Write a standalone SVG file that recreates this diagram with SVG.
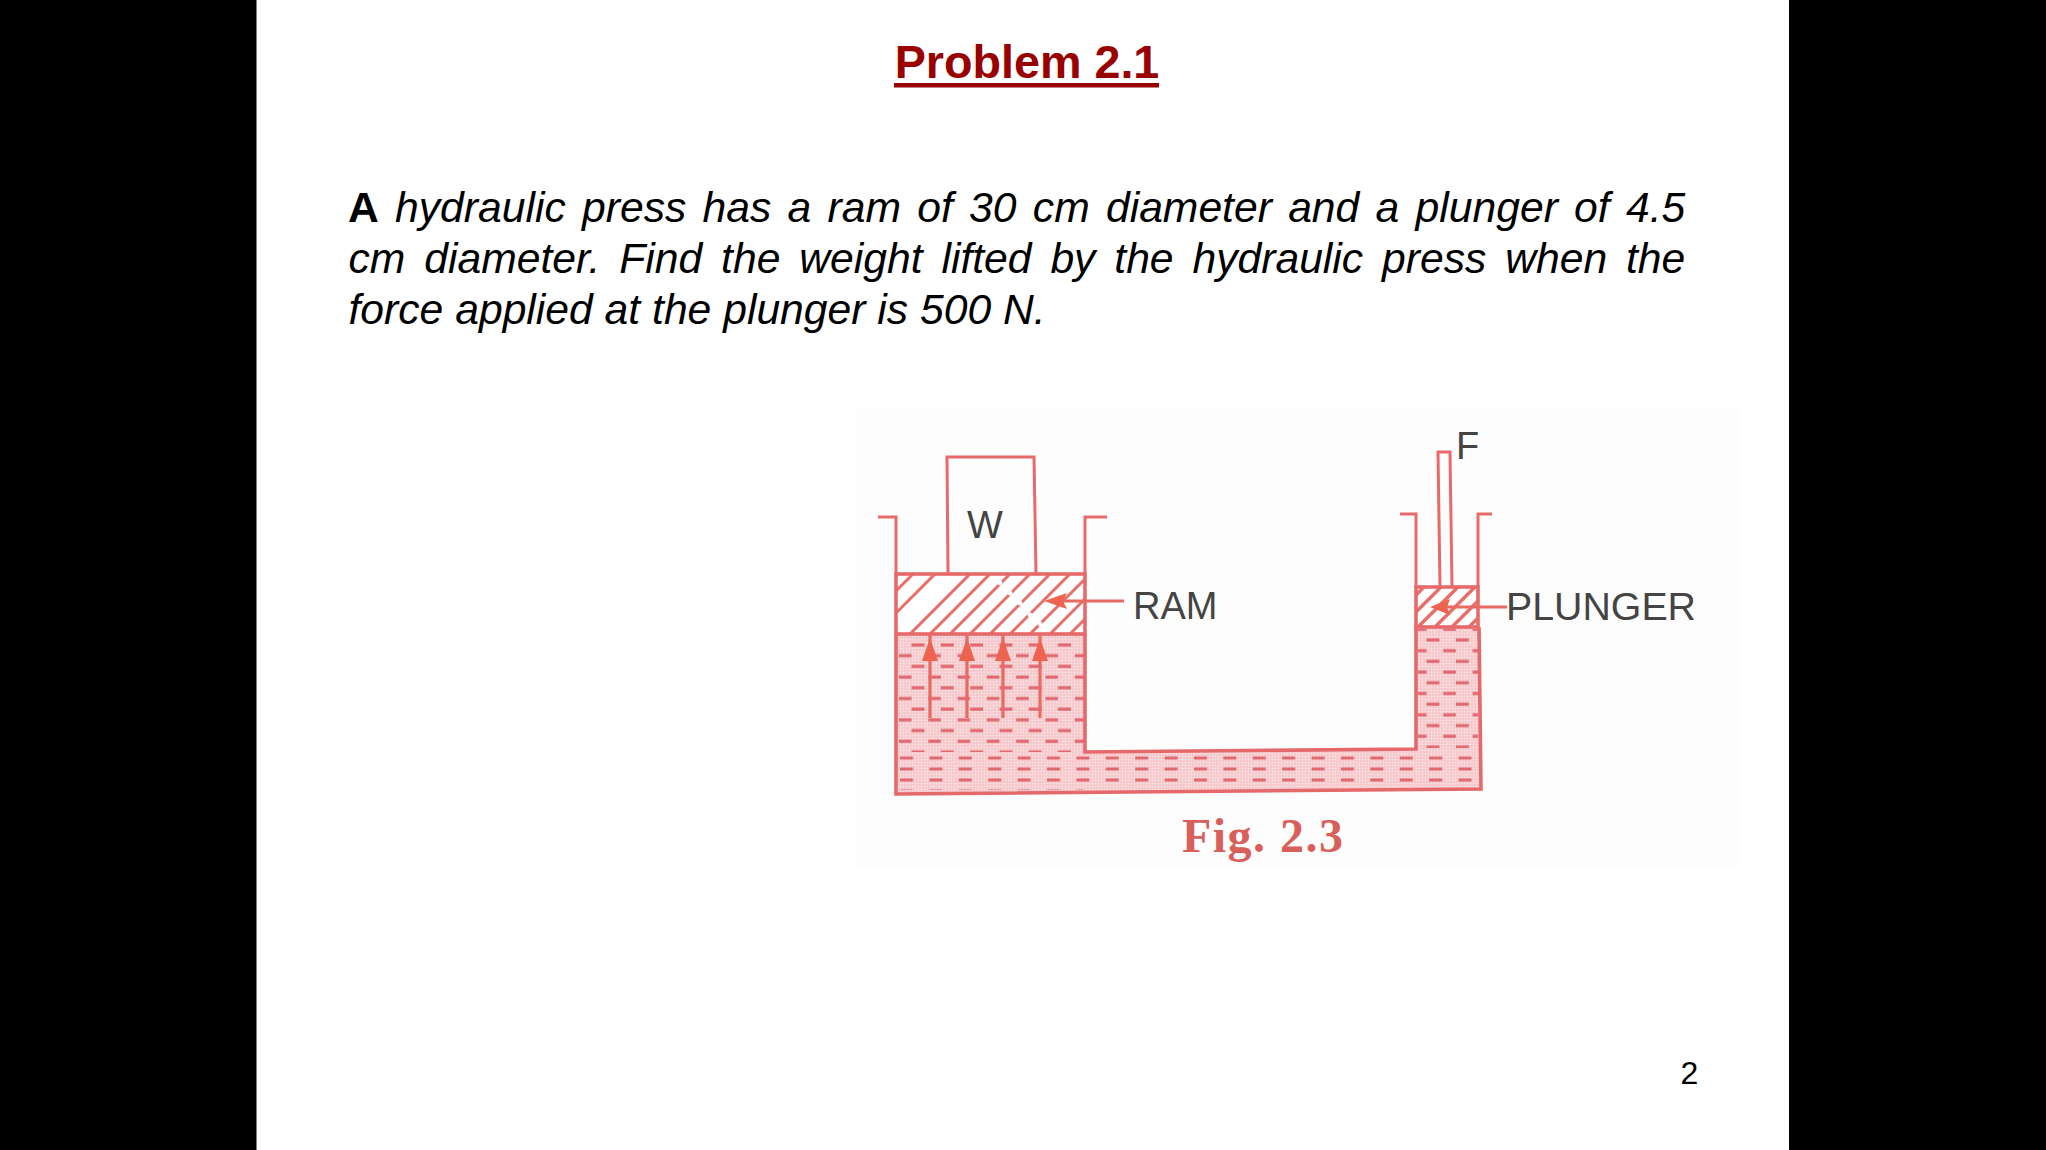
<svg xmlns="http://www.w3.org/2000/svg" width="2046" height="1150" viewBox="0 0 2046 1150">
<style>
text{font-family:"Liberation Sans",Arial,sans-serif}
.body{font-size:42.67px;font-style:italic;fill:#000}
.lbl{font-size:38px;fill:#444}
.wall{fill:none;stroke:#e8696a;stroke-width:3}
.lead{stroke:#e86a62;stroke-width:3.2;fill:none}
.head{fill:#ee6450}
.fluidline{fill:none;stroke:#e5686a;stroke-width:3.6}
.soft{filter:url(#soft)}
</style>
<defs>
<filter id="soft" x="-5%" y="-5%" width="110%" height="110%"><feGaussianBlur stdDeviation="0.6"/></filter>
<clipPath id="ramClip"><rect x="896" y="574" width="189" height="60"/></clipPath>
<pattern id="stip" patternUnits="userSpaceOnUse" width="3" height="3"><rect width="3" height="3" fill="#f8d0d3"/><rect width="1" height="1" fill="#fbe6e6"/><rect x="1.5" y="1.5" width="1" height="1" fill="#f1b6bb"/></pattern>
<pattern id="dashL" patternUnits="userSpaceOnUse" x="899" y="640" width="29.3" height="21.4"><path d="M12.5 5H25.5M0 15.7H12.5" stroke="#e0686e" stroke-width="3" fill="none"/></pattern>
<pattern id="dashR" patternUnits="userSpaceOnUse" x="1414" y="635" width="29.3" height="21.4"><path d="M12.5 5H25.5M0 15.7H12.5" stroke="#e0686e" stroke-width="3" fill="none"/></pattern>
<pattern id="dashB" patternUnits="userSpaceOnUse" x="899" y="752" width="29.4" height="33"><path d="M1 6H14M1 17H14M1 28H14" stroke="#e0686e" stroke-width="3" fill="none"/></pattern>
<pattern id="hatchPl" patternUnits="userSpaceOnUse" x="1420" y="608" width="17" height="17"><path d="M-2 2L2 -2M-1 18L18 -1M15 19L19 15" stroke="#e96e68" stroke-width="3.4" fill="none"/></pattern>
</defs>

<rect width="2046" height="1150" fill="#fff"/>
<rect x="0" y="0" width="256.5" height="1150" fill="#000"/>
<rect x="1789" y="0" width="257" height="1150" fill="#000"/>
<rect x="856" y="408" width="882" height="460" fill="#fefdfd"/>

<g id="title">
<text x="1027" y="78" font-size="46.7" font-weight="700" fill="#990000" text-anchor="middle">Problem 2.1</text>
<rect x="894" y="83" width="265" height="4.5" fill="#990000"/>
</g>
<g id="statement">
<text class="body" x="348" y="222" word-spacing="4.4"><tspan font-weight="700" font-style="normal">A</tspan> hydraulic press has a ram of 30 cm diameter and a plunger of 4.5</text>
<text class="body" x="348.5" y="273" word-spacing="7">cm diameter. Find the weight lifted by the hydraulic press when the</text>
<text class="body" x="348.5" y="324">force applied at the plunger is 500 N.</text>
</g>

<g id="fluid" class="soft">
<path d="M896 634H1085V752L1416 749V627H1479L1481 789L897 794Z" fill="url(#stip)"/>
<rect x="898" y="636" width="186" height="116" fill="url(#dashL)"/>
<rect x="1418" y="629" width="60" height="119" fill="url(#dashR)"/>
<rect x="898" y="753" width="186" height="37" fill="url(#dashB)"/>
<rect x="1084" y="753" width="395" height="35" fill="url(#dashB)"/>
<path class="fluidline" d="M896 634V794L1481 789L1479 627M1085 634V752L1416 749V627"/>
</g>

<g id="ram" class="soft">
<rect x="896" y="574" width="189" height="60" fill="#fff"/>
<path clip-path="url(#ramClip)" fill="none" stroke="#e96e68" stroke-width="3" d="M853 634L913 574M875 634L935 574M910 634L970 574M930 634L990 574M950 634L1010 574M970 634L1030 574M990 634L1050 574M1010 634L1070 574M1030 634L1090 574M1050 634L1110 574M1070 634L1130 574"/>
<g fill="#fff"><circle cx="1000" cy="583" r="2.4"/><circle cx="1010" cy="593" r="2.4"/><circle cx="1020" cy="603" r="2.4"/><circle cx="1030" cy="615" r="2.4"/><circle cx="1040" cy="624" r="2.4"/></g>
<rect x="896" y="574" width="189" height="60" fill="none" stroke="#e8696a" stroke-width="3.6"/>
<path class="wall" d="M878 517H896V574M1107 517H1085V574"/>
</g>

<g id="weight">
<path class="wall soft" d="M948 574L947 457H1034L1036 574"/>
<text class="lbl" x="985" y="538" text-anchor="middle">W</text>
</g>

<g id="plunger">
<g class="soft">
<rect x="1416" y="587" width="62" height="40" fill="#fff"/>
<rect x="1416" y="587" width="62" height="40" fill="url(#hatchPl)"/>
<rect x="1416" y="587" width="62" height="40" fill="none" stroke="#e8696a" stroke-width="3.6"/>
<path class="wall" d="M1400 514H1416V587M1492 514H1478V587"/>
<path class="wall" d="M1440 587L1438 452H1450L1452 587"/>
</g>
<text class="lbl" x="1456" y="459">F</text>
</g>

<g id="connectors" class="soft">
<path class="lead" d="M1050 601H1124"/>
<path class="head" d="M1044 601L1067 593L1063 601L1067 609Z"/>
<path class="lead" d="M1435 607H1507"/>
<path class="head" d="M1430 607L1450 599L1447 607L1450 615Z"/>
<path class="lead" d="M930 634V718M967 634V718M1003 634V718M1040 634V718"/>
<path class="head" d="M930 638L938 661H922ZM967 638L975 661H959ZM1003 638L1011 661H995ZM1040 638L1048 661H1032Z"/>
</g>

<g id="labels">
<text class="lbl" x="1133" y="619" style="font-size:38px">RAM</text>
<text class="lbl" x="1506" y="620" style="font-size:39.3px">PLUNGER</text>
<text x="1182" y="852" font-size="48" font-weight="700" fill="#d9605a" textLength="161" style="font-family:'Liberation Serif',serif">Fig. 2.3</text>
</g>

<text x="1680.5" y="1084" font-size="32" fill="#000">2</text>
</svg>
